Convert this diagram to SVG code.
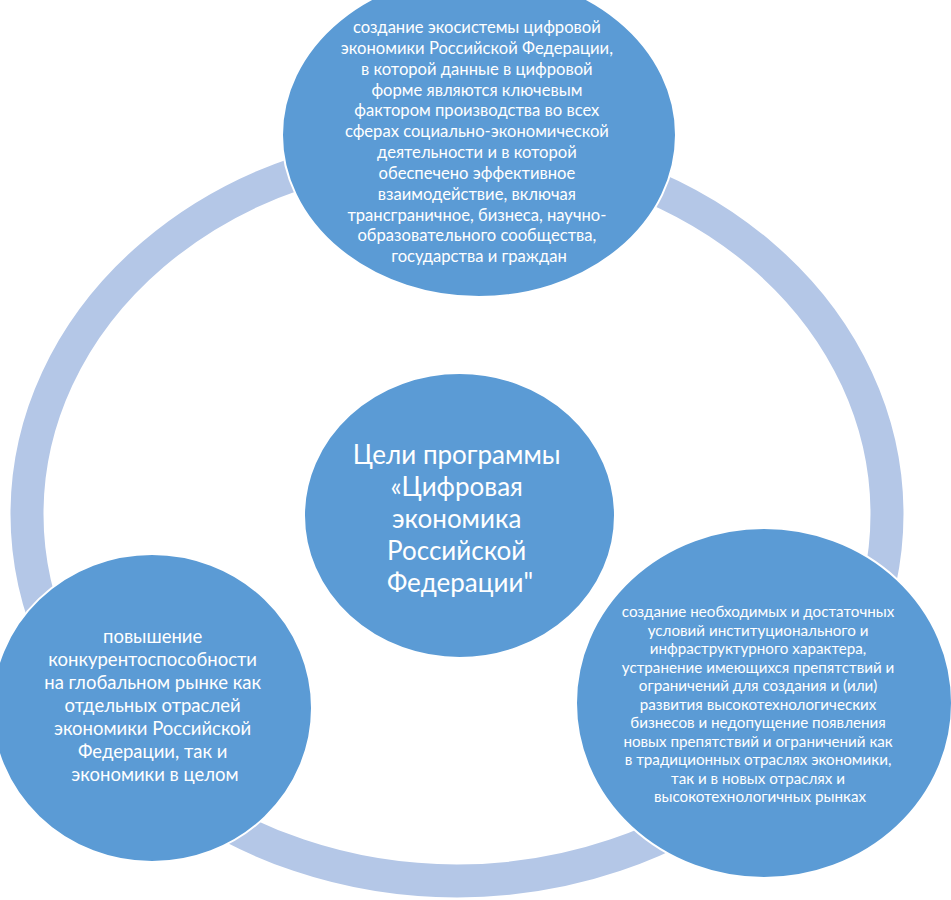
<svg xmlns="http://www.w3.org/2000/svg" width="951" height="900" viewBox="0 0 951 900">
  <style>
    .node { fill: #5B9BD5; stroke: #FFFFFF; stroke-width: 2; }
    .ring { fill: none; stroke: #B4C7E7; stroke-width: 33; }
    .t { fill: #FFFFFF; font-family: Lato, "Noto Sans", "DejaVu Sans", sans-serif; text-anchor: middle; }
    .t1 { font-size: 16.6px; }
    .t2 { font-size: 26px; }
    .t3 { font-size: 18.5px; }
    .t4 { font-size: 15.2px; }
  </style>
  <rect width="951" height="900" fill="#FFFFFF"/>
  <g id="connectors">
    <ellipse class="ring" cx="457" cy="514" rx="430" ry="367"/>
  </g>
  <g id="node-top">
    <ellipse class="node" cx="479" cy="135" rx="197" ry="162"/>
    <text class="t t1">
      <tspan x="479" y="33">создание экосистемы цифровой</tspan>
      <tspan x="479" y="54">экономики Российской Федерации,</tspan>
      <tspan x="479" y="75">в которой данные в цифровой</tspan>
      <tspan x="479" y="96">форме являются ключевым</tspan>
      <tspan x="479" y="116">фактором производства во всех</tspan>
      <tspan x="479" y="137">сферах социально-экономической</tspan>
      <tspan x="479" y="158">деятельности и в которой</tspan>
      <tspan x="479" y="179">обеспечено эффективное</tspan>
      <tspan x="479" y="200">взаимодействие, включая</tspan>
      <tspan x="479" y="221">трансграничное, бизнеса, научно-</tspan>
      <tspan x="479" y="241">образовательного сообщества,</tspan>
      <tspan x="479" y="262">государства и граждан</tspan>
    </text>
  </g>
  <g id="node-center">
    <ellipse class="node" cx="459.5" cy="515.5" rx="155.5" ry="142.5"/>
    <text class="t t2">
      <tspan x="460" y="464">Цели программы</tspan>
      <tspan x="460" y="496">«Цифровая</tspan>
      <tspan x="460" y="528">экономика</tspan>
      <tspan x="460" y="560">Российской</tspan>
      <tspan x="460" y="592">Федерации"</tspan>
    </text>
  </g>
  <g id="node-left">
    <ellipse class="node" cx="152" cy="708" rx="160" ry="154"/>
    <text class="t t3">
      <tspan x="155" y="643">повышение</tspan>
      <tspan x="155" y="666">конкурентоспособности</tspan>
      <tspan x="155" y="689">на глобальном рынке как</tspan>
      <tspan x="155" y="712">отдельных отраслей</tspan>
      <tspan x="155" y="735">экономики Российской</tspan>
      <tspan x="155" y="758">Федерации, так и</tspan>
      <tspan x="155" y="781">экономики в целом</tspan>
    </text>
  </g>
  <g id="node-right">
    <ellipse class="node" cx="764" cy="703" rx="188" ry="175"/>
    <text class="t t4">
      <tspan x="760" y="617">создание необходимых и достаточных</tspan>
      <tspan x="760" y="635.5">условий институционального и</tspan>
      <tspan x="760" y="654">инфраструктурного характера,</tspan>
      <tspan x="760" y="672.5">устранение имеющихся препятствий и</tspan>
      <tspan x="760" y="691">ограничений для создания и (или)</tspan>
      <tspan x="760" y="709.5">развития высокотехнологических</tspan>
      <tspan x="760" y="728">бизнесов и недопущение появления</tspan>
      <tspan x="760" y="746.5">новых препятствий и ограничений как</tspan>
      <tspan x="760" y="765">в традиционных отраслях экономики,</tspan>
      <tspan x="760" y="783.5">так и в новых отраслях и</tspan>
      <tspan x="760" y="802">высокотехнологичных рынках</tspan>
    </text>
  </g>
</svg>
